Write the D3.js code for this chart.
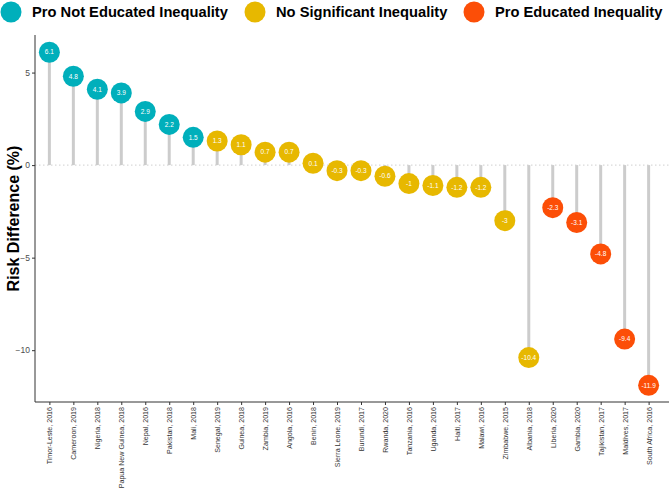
<!DOCTYPE html>
<html><head><meta charset="utf-8">
<script src="https://cdn.jsdelivr.net/npm/d3@7"></script>
<style>body{margin:0;background:#fff}svg{display:block;font-family:"Liberation Sans",Arial,sans-serif}</style>
</head><body><svg id="c" width="669" height="493"></svg>
<script>
const categories = ["Timor-Leste, 2016","Cameroon, 2019","Nigeria, 2018","Papua New Guinea, 2018","Nepal, 2016","Pakistan, 2018","Mali, 2018","Senegal, 2019","Guinea, 2018","Zambia, 2019","Angola, 2016","Benin, 2018","Sierra Leone, 2019","Burundi, 2017","Rwanda, 2020","Tanzania, 2016","Uganda, 2016","Haiti, 2017","Malawi, 2016","Zimbabwe, 2015","Albania, 2018","Liberia, 2020","Gambia, 2020","Tajikistan, 2017","Maldives, 2017","South Africa, 2016"];
const values = [6.1,4.8,4.1,3.9,2.9,2.2,1.5,1.3,1.1,0.7,0.7,0.1,-0.3,-0.3,-0.6,-1,-1.1,-1.2,-1.2,-3,-10.4,-2.3,-3.1,-4.8,-9.4,-11.9];
const groups = ["Pro Not Educated Inequality","Pro Not Educated Inequality","Pro Not Educated Inequality","Pro Not Educated Inequality","Pro Not Educated Inequality","Pro Not Educated Inequality","Pro Not Educated Inequality",
"No Significant Inequality","No Significant Inequality","No Significant Inequality","No Significant Inequality","No Significant Inequality","No Significant Inequality","No Significant Inequality","No Significant Inequality","No Significant Inequality","No Significant Inequality","No Significant Inequality","No Significant Inequality","No Significant Inequality","No Significant Inequality",
"Pro Educated Inequality","Pro Educated Inequality","Pro Educated Inequality","Pro Educated Inequality","Pro Educated Inequality"];
const groupNames = ["Pro Not Educated Inequality","No Significant Inequality","Pro Educated Inequality"];
const groupColors = ["#00AFBB","#E7B800","#FC4E07"];
const yTicks = [5,0,-5,-10];

const data = categories.map((c,i)=>({c, v:values[i], g:groups[i]}));
const svg = d3.select("#c");
const L=35, R=663, T=35, B=402;
const x = d3.scalePoint().domain(categories).range([L,R]).padding(0.6);
const y = d3.scaleLinear().domain([-12.8,7.03]).range([B,T]);
const color = d3.scaleOrdinal().domain(groupNames).range(groupColors);

// zero line
svg.append("line").attr("x1",L).attr("x2",669).attr("y1",y(0)).attr("y2",y(0))
  .attr("stroke","#cfcfcf").attr("stroke-width",1).attr("stroke-dasharray","1.5,2.5");

// segments
svg.append("g").selectAll("line").data(data).join("line")
  .attr("x1",d=>x(d.c)).attr("x2",d=>x(d.c)).attr("y1",y(0)).attr("y2",d=>y(d.v))
  .attr("stroke","#cccccc").attr("stroke-width",3);

// axes
const ya = svg.append("g").attr("transform",`translate(${L},0)`)
  .call(d3.axisLeft(y).tickValues(yTicks).tickSize(3).tickFormat(d3.format("d")));
ya.select(".domain").attr("stroke","#333").attr("stroke-width",1).attr("d",`M0,${T}V${B}`);
ya.selectAll(".tick line").attr("stroke","#333");
ya.selectAll(".tick text").attr("fill","#4d4d4d").attr("font-size",8.5).attr("x",-5).attr("font-family","Liberation Sans, Arial");

const xa = svg.append("g").attr("transform",`translate(0,${B})`)
  .call(d3.axisBottom(x).tickSize(3));
xa.select(".domain").attr("stroke","#333").attr("d",`M${L},0H669`);
xa.selectAll(".tick line").attr("stroke","#333");
xa.selectAll(".tick text").attr("fill","#333").attr("font-size",7.1).attr("font-family","Liberation Sans, Arial")
  .attr("transform","rotate(-90)").attr("text-anchor","end").attr("x",-5).attr("y",0).attr("dy","0.35em");

// points
const pts = svg.append("g").selectAll("g").data(data).join("g")
  .attr("transform",d=>`translate(${x(d.c)},${y(d.v)})`);
pts.append("circle").attr("r",10.5).attr("fill",d=>color(d.g));
pts.append("text").text(d=>d.v).attr("fill","#fff").attr("font-size",6.5)
  .attr("text-anchor","middle").attr("dy","0.35em");

// y title
svg.append("text").attr("transform",`translate(19,${(T+B)/2}) rotate(-90)`)
  .attr("text-anchor","middle").attr("font-weight","bold").attr("font-size",16).attr("fill","#000")
  .text("Risk Difference (%)");

// legend
const legX = [11,255,474];
const lg = svg.append("g").selectAll("g").data(groupNames).join("g")
  .attr("transform",(d,i)=>`translate(${legX[i]},12)`);
lg.append("circle").attr("r",10.5).attr("fill",d=>color(d));
lg.append("text").attr("x",21).attr("dy","0.36em").attr("font-weight","bold").attr("font-size",14.7)
  .attr("fill","#000").text(d=>d);
</script></body></html>
